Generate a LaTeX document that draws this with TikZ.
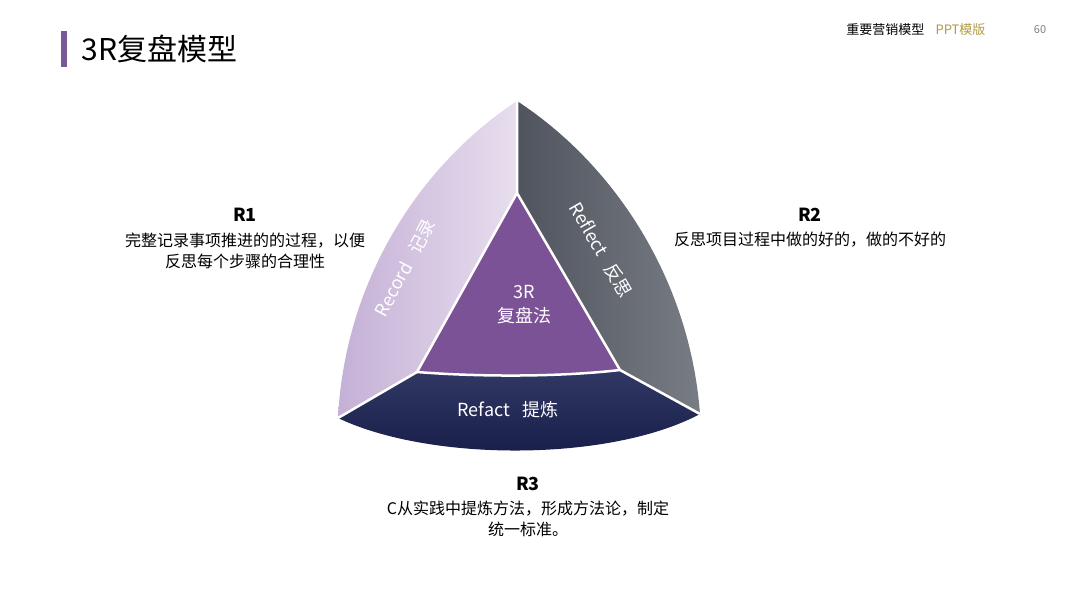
\documentclass[tikz,border=0pt]{standalone}
\usepackage{fontspec}
\setmainfont{Noto Sans CJK SC}
\definecolor{lavA}{RGB}{196,176,214}
\definecolor{lavB}{RGB}{232,222,238}
\definecolor{grA}{RGB}{80,84,94}
\definecolor{grB}{RGB}{120,124,132}
\definecolor{nvA}{RGB}{50,56,100}
\definecolor{nvB}{RGB}{22,28,72}
\definecolor{ctr}{RGB}{124,82,150}
\definecolor{gold}{RGB}{176,156,70}
\definecolor{bar}{RGB}{120,90,150}
\begin{document}
\begin{tikzpicture}[x=1pt,y=-1pt,
  lbl/.style={font=\fontsize{16}{21}\selectfont,align=center,text=black},
  hd/.style={font=\bfseries\fontsize{18}{21}\selectfont,text=black},
  band/.style={font=\fontsize{18}{21}\selectfont,text=white},
  sep/.style={draw=white,line width=2.5pt}]
\useasboundingbox (0,0) rectangle (1080,608);
\fill[white] (0,0) rectangle (1080,608);
\fill[bar] (61,31) rectangle (67,67);
\node[anchor=west,font=\fontsize{30}{34}\selectfont] (title) at (78,49) {3R复盘模型};
\node[anchor=east,font=\fontsize{13}{15}\selectfont] (h1) at (928,30) {重要营销模型};
\node[anchor=west,font=\fontsize{13}{15}\selectfont,text=gold] (h2) at (932,30) {PPT模版};
\node[font=\fontsize{11}{13}\selectfont,text=gray] (pg) at (1040,30) {60};
\coordinate (T) at (517,101); \coordinate (L) at (338,418); \coordinate (R) at (700,414);
\coordinate (iT) at (517,193); \coordinate (iL) at (417,372); \coordinate (iR) at (620,370);
\shade[left color=lavA, right color=lavB]
 (T) .. controls (420,165) and (345,280) .. (L) -- (iL) -- (iT) -- cycle;
\shade[left color=grA, right color=grB]
 (T) .. controls (615,165) and (690,280) .. (R) -- (iR) -- (iT) -- cycle;
\shade[top color=nvA, bottom color=nvB]
 (L) .. controls (430,462) and (610,462) .. (R) -- (iR) .. controls (560,377) and (480,377) .. (iL) -- cycle;
\fill[ctr] (iT) -- (iR) .. controls (560,377) and (480,377) .. (iL) -- cycle;
\draw[sep] (T) -- (iT) -- (iL) -- (L);
\draw[sep] (iT) -- (iR) -- (R);
\draw[sep] (iL) .. controls (480,377) and (560,377) .. (iR);
\node[band,rotate=62] (rec) at (405,268) {Record\ \ \ 记录};
\node[band,rotate=-60] (ref) at (601,250) {Reflect\ \ \ 反思};
\node[band] (rft) at (508,410) {Refact\ \ \ 提炼};
\node[band,align=center,font=\fontsize{18}{24}\selectfont] (c) at (524,305) {3R\\复盘法};
\node[hd] (r1) at (245,215) {R1};
\node[lbl] (t1) at (245,251) {完整记录事项推进的的过程，以便\\反思每个步骤的合理性};
\node[hd] (r2) at (810,215) {R2};
\node[lbl] (t2) at (810,240) {反思项目过程中做的好的，做的不好的};
\node[hd] (r3) at (528,484) {R3};
\node[lbl] (t3) at (528,519) {C从实践中提炼方法，形成方法论，制定\\统一标准。};
\end{tikzpicture}
\end{document}
